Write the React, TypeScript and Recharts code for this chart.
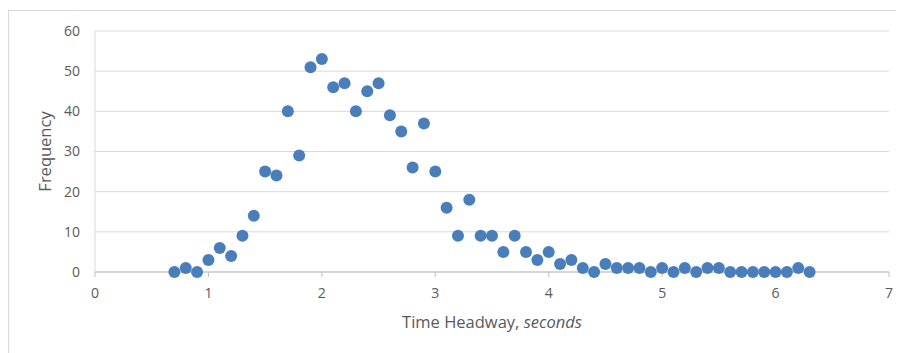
import React from 'react';
import { ScatterChart, Scatter, XAxis, YAxis, CartesianGrid } from 'recharts';

// headway bins (seconds) and counts
const headways = [
  0.7, 0.8, 0.9, 1.0, 1.1, 1.2, 1.3, 1.4, 1.5, 1.6, 1.7, 1.8, 1.9, 2.0, 2.1, 2.2, 2.3, 2.4, 2.5,
  2.6, 2.7, 2.8, 2.9, 3.0, 3.1, 3.2, 3.3, 3.4, 3.5, 3.6, 3.7, 3.8, 3.9, 4.0, 4.1, 4.2, 4.3, 4.4,
  4.5, 4.6, 4.7, 4.8, 4.9, 5.0, 5.1, 5.2, 5.3, 5.4, 5.5, 5.6, 5.7, 5.8, 5.9, 6.0, 6.1, 6.2, 6.3,
];
const frequencies = [
  0, 1, 0, 3, 6, 4, 9, 14, 25, 24, 40, 29, 51, 53, 46, 47, 40, 45, 47,
  39, 35, 26, 37, 25, 16, 9, 18, 9, 9, 5, 9, 5, 3, 5, 2, 3, 1, 0,
  2, 1, 1, 1, 0, 1, 0, 1, 0, 1, 1, 0, 0, 0, 0, 0, 0, 1, 0,
];
const xTicks = [0, 1, 2, 3, 4, 5, 6, 7];
const yTicks = [0, 10, 20, 30, 40, 50, 60];

const points = headways.map((h, i) => ({ x: h, y: frequencies[i] }));

const FONT = '"Open Sans", "Noto Sans", sans-serif';
const TEXT = '#595959';

export default function App() {
  return (
    <div
      style={{
        marginTop: 2,
        width: 888,
        height: 345,
        border: '1px solid #d9d9d9',
        borderBottom: 'none',
        fontFamily: FONT,
        background: '#fff',
      }}
    >
      <ScatterChart width={888} height={340} margin={{ top: 20, right: 8, bottom: 0, left: 0 }}>
        <CartesianGrid vertical={false} stroke="#d9d9d9" strokeWidth={1} />
        <XAxis
          type="number"
          dataKey="x"
          domain={[0, 7]}
          ticks={xTicks}
          height={79}
          stroke="#bfbfbf"
          tickSize={5}
          tickMargin={11}
          tick={{ fill: TEXT, fontSize: 14, fontFamily: FONT }}
          label={(props: any) => {
            const vb = props.viewBox;
            return (
              <text
                x={vb.x + vb.width / 2}
                y={313}
                textAnchor="middle"
                dominantBaseline="middle"
                fill={TEXT}
                fontSize={16.5}
                fontFamily={FONT}
              >
                Time Headway, <tspan fontStyle="italic">seconds</tspan>
              </text>
            );
          }}
        />
        <YAxis
          type="number"
          dataKey="y"
          domain={[0, 60]}
          ticks={yTicks}
          width={86}
          stroke="#d9d9d9"
          tickLine={false}
          tickSize={6}
          tickMargin={9}
          tick={{ fill: TEXT, fontSize: 14, fontFamily: FONT }}
          label={{
            value: 'Frequency',
            angle: -90,
            position: 'insideLeft',
            offset: 36,
            style: { fill: TEXT, fontSize: 16.5, fontFamily: FONT, textAnchor: 'middle' },
          }}
        />
        <Scatter
          data={points}
          fill="#4a7ebb"
          isAnimationActive={false}
          shape={(p: any) => <circle cx={p.cx} cy={p.cy} r={6} fill="#4a7ebb" />}
        />
      </ScatterChart>
    </div>
  );
}
